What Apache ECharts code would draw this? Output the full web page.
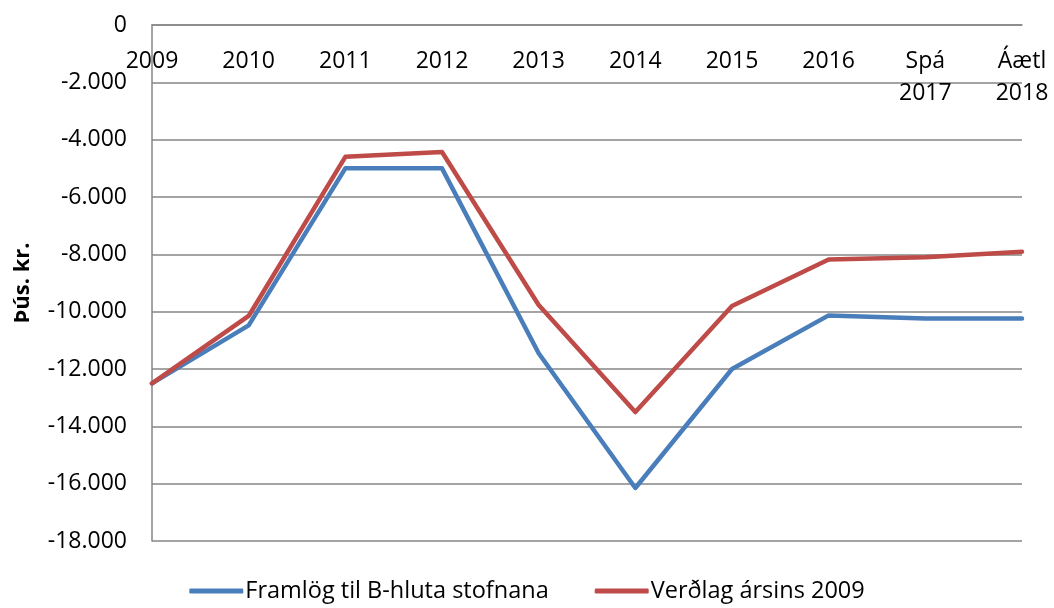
<!DOCTYPE html>
<html>
<head>
<meta charset="utf-8">
<script src="https://cdn.jsdelivr.net/npm/echarts@6/dist/echarts.min.js"></script>
<style>html,body{margin:0;padding:0;background:#fff}#c{width:1054px;height:608px}</style>
</head>
<body>
<div id="c"></div>
<script>
const categories = ['2009','2010','2011','2012','2013','2014','2015','2016','Spá\n2017','Áætl\n2018'];
const framlog = [-12500,-10480,-5000,-5000,-11450,-16150,-12000,-10130,-10240,-10240];
const verdlag = [-12500,-10150,-4600,-4430,-9770,-13500,-9800,-8180,-8100,-7910];
const seriesNames = ['Framlög til B-hluta stofnana','Verðlag ársins 2009'];
const yAxisName = 'Þús. kr.';

const FONT = 'Open Sans';
const chart = echarts.init(document.getElementById('c'));
function fmt(v){
  const s = Math.abs(v).toString().replace(/\B(?=(\d{3})+(?!\d))/g,'.');
  return (v<0?'-':'')+s;
}
chart.setOption({
  animation:false,
  textStyle:{fontFamily:FONT},
  grid:{left:152,right:32,top:25,bottom:67,containLabel:false},
  legend:{
    bottom:0,left:'center',
    itemWidth:54,itemHeight:5,itemGap:46,
    icon:'roundRect',
    textStyle:{fontFamily:FONT,fontSize:23.5,color:'#000',padding:[0,0,0,-3]},
    data:seriesNames
  },
  xAxis:{
    type:'category',position:'top',boundaryGap:false,data:categories,
    axisLine:{lineStyle:{color:'#868686',width:1.5}},
    axisTick:{show:false},
    axisLabel:{inside:true,margin:20,fontFamily:FONT,fontSize:23,color:'#000',lineHeight:32,interval:0}
  },
  yAxis:{
    type:'value',min:-18000,max:0,interval:2000,
    name:yAxisName,nameLocation:'middle',nameRotate:90,nameGap:118,
    nameTextStyle:{fontFamily:FONT,fontSize:22,fontWeight:'bold',color:'#000'},
    axisLine:{show:true,lineStyle:{color:'#868686',width:1.5}},
    axisTick:{show:false},
    axisLabel:{margin:25,fontFamily:FONT,fontSize:23,color:'#000',formatter:fmt},
    splitLine:{lineStyle:{color:'#868686',width:1.5}}
  },
  series:[
    {name:seriesNames[0],type:'line',data:framlog,symbol:'none',
     lineStyle:{color:'#4A7EBB',width:4.5,cap:'round',join:'round'},itemStyle:{color:'#4A7EBB'}},
    {name:seriesNames[1],type:'line',data:verdlag,symbol:'none',
     lineStyle:{color:'#BE4B48',width:4.5,cap:'round',join:'round'},itemStyle:{color:'#BE4B48'}}
  ]
});
</script>
</body>
</html>
